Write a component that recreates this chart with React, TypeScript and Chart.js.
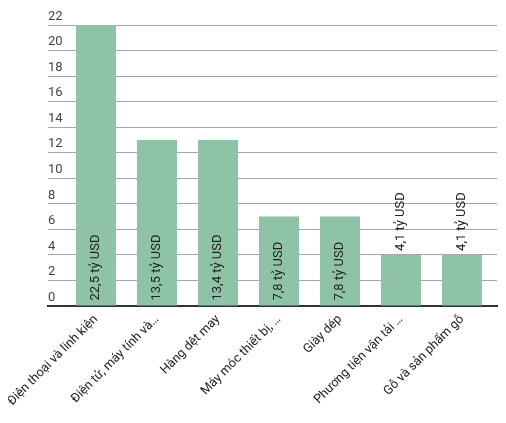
import React, { useEffect, useRef } from "react";
import { Chart, registerables } from "chart.js";

Chart.register(...registerables);

const categories: string[] = [
  "Điện thoại và linh kiện",
  "Điện tử, máy tính và…",
  "Hàng dệt may",
  "Máy móc thiết bị, …",
  "Giày dép",
  "Phương tiện vận tải …",
  "Gỗ và sản phẩm gỗ",
];
const values: number[] = [22, 13, 13, 7, 7, 4, 4];
const valueLabels: string[] = [
  "22,5 tỷ USD",
  "13,5 tỷ USD",
  "13,4 tỷ USD",
  "7,8 tỷ USD",
  "7,8 tỷ USD",
  "4,1 tỷ USD",
  "4,1 tỷ USD",
];

const FONT = "Roboto, 'Noto Sans', sans-serif";

const barLabelPlugin = {
  id: "barLabels",
  afterDatasetsDraw(chart: any) {
    const ctx = chart.ctx;
    const meta = chart.getDatasetMeta(0);
    ctx.save();
    ctx.font = `13px ${FONT}`;
    ctx.fillStyle = "#222";
    ctx.textAlign = "left";
    ctx.textBaseline = "middle";
    meta.data.forEach((bar: any, i: number) => {
      const text = valueLabels[i];
      const w = ctx.measureText(text).width;
      const h = bar.base - bar.y;
      ctx.save();
      if (w + 10 <= h) {
        ctx.translate(bar.x, bar.base - 5);
      } else {
        ctx.translate(bar.x, bar.y - 4);
      }
      ctx.rotate(-Math.PI / 2);
      ctx.fillText(text, 0, 0);
      ctx.restore();
    });
    ctx.restore();
  },
};

export default function App() {
  const ref = useRef<HTMLCanvasElement | null>(null);
  useEffect(() => {
    if (!ref.current) return;
    const chart = new Chart(ref.current, {
      type: "bar",
      data: {
        datasets: [
          {
            data: values.map((v, i) => ({ x: i, y: v })),
            backgroundColor: "#8ec3a7",
            borderWidth: 0,
            barPercentage: 1,
            categoryPercentage: 0.656,
          },
        ],
      },
      plugins: [barLabelPlugin],
      options: {
        animation: false,
        responsive: false,
        layout: { padding: { left: 40, right: 1, top: 17, bottom: 0 } },
        plugins: { legend: { display: false }, tooltip: { enabled: false } },
        scales: {
          x: {
            type: "linear",
            offset: false,
            min: -0.787,
            max: 6.574,
            grid: { display: false, drawTicks: false },
            border: { display: true, color: "#333", width: 2 },
            afterBuildTicks(scale: any) {
              scale.ticks = categories.map((_, i) => ({ value: i }));
            },
            afterFit(scale: any) {
              scale.height = 109;
              scale.paddingLeft = 0;
              scale.paddingRight = 0;
            },
            ticks: {
              autoSkip: false,
              maxRotation: 45,
              minRotation: 45,
              padding: 6,
              color: "#222",
              font: { family: FONT, size: 12.6 },
              callback: (v: any) => categories[v as number] ?? "",
            },
          },
          y: {
            min: 0,
            max: 22,
            grid: { color: "#a6a6a6", lineWidth: 1, drawTicks: false },
            border: { display: false },
            afterFit(scale: any) {
              scale.width = 0;
              scale.paddingTop = 0;
              scale.paddingBottom = 0;
            },
            ticks: {
              stepSize: 2,
              mirror: true,
              padding: 0,
              crossAlign: "near",
              labelOffset: -8.5,
              color: "#444",
              font: { family: FONT, size: 13 },
            },
          },
        },
      },
    });
    return () => chart.destroy();
  }, []);
  return (
    <div style={{ width: 490, height: 407 }}>
      <canvas ref={ref} width={490} height={407} style={{ display: "block" }} />
    </div>
  );
}
